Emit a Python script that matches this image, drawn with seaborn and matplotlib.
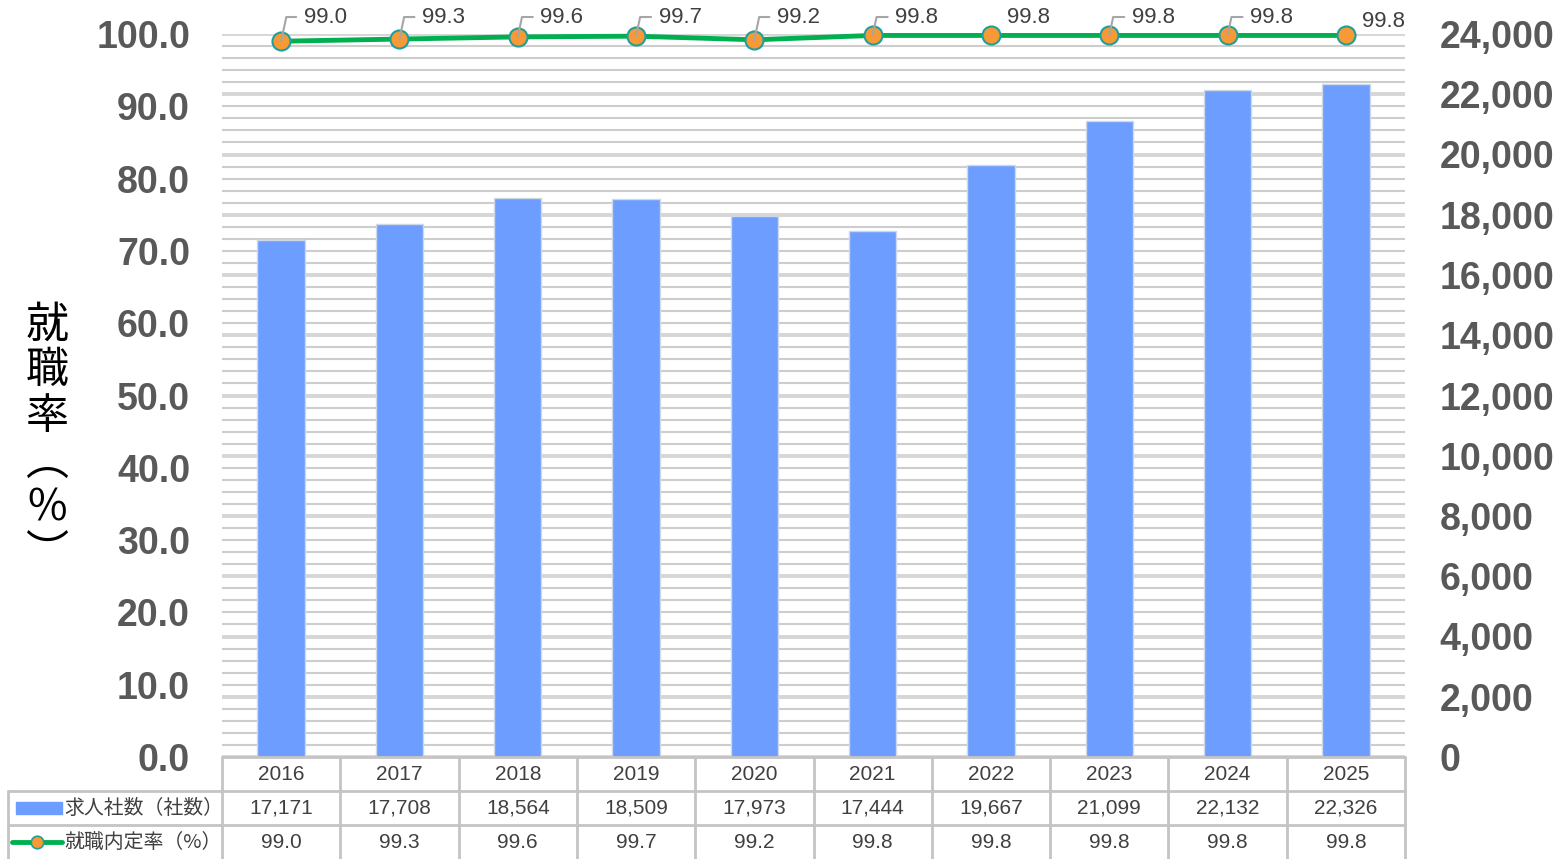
import numpy as np
import matplotlib
matplotlib.use('Agg')
import matplotlib.pyplot as plt
from matplotlib.ticker import MultipleLocator, FuncFormatter
import seaborn as sns

# Data
years = ['2016', '2017', '2018', '2019', '2020', '2021', '2022', '2023', '2024', '2025']
companies = [17171, 17708, 18564, 18509, 17973, 17444, 19667, 21099, 22132, 22326]
rate = [99.0, 99.3, 99.6, 99.7, 99.2, 99.8, 99.8, 99.8, 99.8, 99.8]
bar_label = '求人社数（社数）'
line_label = '就職内定率（%）'

BAR_COLOR = '#6d9eff'
LINE_COLOR = '#00b050'
MARK_FACE = '#f79a36'
MARK_EDGE = '#1f9e9a'
TICK_COLOR = '#595959'
TEXT_COLOR = '#404040'
BORDER = '#c4c4c4'

sns.set_style('white')
plt.rcParams['font.family'] = ['Liberation Sans', 'Noto Sans CJK JP', 'DejaVu Sans']

W, H = 1559, 859
fig = plt.figure(figsize=(W / 100, H / 100), dpi=100)

# plot area in pixels
px_l, px_r, px_t, px_b = 222, 1405, 34, 757
ax = fig.add_axes([px_l / W, 1 - px_b / H, (px_r - px_l) / W, (px_b - px_t) / H])
ax2 = ax.twinx()
ax.set_zorder(ax2.get_zorder() + 1)
ax.patch.set_visible(False)

x = np.arange(len(years))

# bars on right axis
sns.barplot(x=x, y=companies, ax=ax2, color=BAR_COLOR, width=0.4, saturation=1,
            edgecolor='#cfd8e6', linewidth=1, zorder=3)
ax2.set_xlim(-0.5, len(years) - 0.5)
ax2.set_ylim(0, 24000)
ax2.yaxis.set_major_locator(MultipleLocator(2000))
ax2.yaxis.set_minor_locator(MultipleLocator(400))
ax2.yaxis.set_major_formatter(FuncFormatter(lambda v, p: f'{int(v):,}'))
ax2.grid(True, which='minor', axis='y', color='#cdcdcd', lw=1.5, zorder=0)
ax2.grid(True, which='major', axis='y', color='#d6d6d6', lw=2.8, zorder=0)
ax2.set_axisbelow(True)
ax2.tick_params(axis='y', which='both', length=0, pad=25, labelsize=27, labelcolor=TICK_COLOR)
for lab in ax2.get_yticklabels():
    lab.set_fontweight('bold')
ax2.set_xticks([])
ax2.set_ylabel('')

# line on left axis
sns.lineplot(x=x, y=rate, ax=ax, color=LINE_COLOR, lw=3.5, marker='o', markersize=13,
             markerfacecolor=MARK_FACE, markeredgecolor=MARK_EDGE, markeredgewidth=1.5,
             zorder=5, clip_on=False)
ax.set_xlim(-0.5, len(years) - 0.5)
ax.set_ylim(0, 100)
ax.yaxis.set_major_locator(MultipleLocator(10))
ax.yaxis.set_major_formatter(FuncFormatter(lambda v, p: f'{v:.1f}'))
ax.tick_params(axis='y', length=0, pad=23, labelsize=27, labelcolor=TICK_COLOR)
for lab in ax.get_yticklabels():
    lab.set_fontweight('bold')
ax.set_xticks([])

for a in (ax, ax2):
    for s in a.spines.values():
        s.set_visible(False)

# data labels, most with leader lines
no_leader = {6, 9}
for i, v in enumerate(rate):
    if i not in no_leader:
        ax.annotate(f'{v:.1f}', xy=(i, v), xytext=(i + 0.19, 102.35), textcoords='data',
                    ha='left', va='center', fontsize=16, color=TEXT_COLOR, annotation_clip=False,
                    zorder=6,
                    arrowprops=dict(arrowstyle='-', color='#a6a6a6', lw=1.5, shrinkA=3, shrinkB=0,
                                    relpos=(0, 0.5),
                                    connectionstyle='angle,angleA=0,angleB=78,rad=0'))
    else:
        ty = 101.7 if i == len(rate) - 1 else 102.35
        ax.annotate(f'{v:.1f}', xy=(i, v), xytext=(i + 0.135, ty), textcoords='data',
                    ha='left', va='center', fontsize=16, color=TEXT_COLOR, annotation_clip=False)

# y label (vertical text)
fig.text(47 / W, 1 - 440 / H, '就\n職\n率\n︵\n%\n︶', ha='center', va='center',
         fontsize=31, linespacing=1.05, color='black', family=['Noto Sans CJK JP'])

# data table below the chart
tab = fig.add_axes([px_l / W, 0, (px_r - px_l) / W, (H - px_b) / H])
tab.set_xlim(-0.5, len(years) - 0.5)
tab.set_ylim(0, 3)
tab.axis('off')
col_w = (px_r - px_l) / len(years)
x_left = -0.5 - (px_l - 8) / col_w
kw = dict(color=BORDER, lw=2, clip_on=False)
for k in range(len(years) + 1):
    tab.plot([k - 0.5, k - 0.5], [0, 3], **kw)
tab.plot([x_left, x_left], [0, 2], **kw)
tab.plot([-0.5, len(years) - 0.5], [3, 3], **kw)
tab.plot([x_left, len(years) - 0.5], [2, 2], **kw)
tab.plot([x_left, len(years) - 0.5], [1, 1], **kw)

for i in range(len(years)):
    tab.text(i, 2.5, years[i], ha='center', va='center', fontsize=15, color=TEXT_COLOR)
    tab.text(i, 1.5, f'{companies[i]:,}', ha='center', va='center', fontsize=15, color=TEXT_COLOR)
    tab.text(i, 0.5, f'{rate[i]:.1f}', ha='center', va='center', fontsize=15, color=TEXT_COLOR)

# legend keys in label column
def px2x(p):
    return -0.5 - (px_l - p) / col_w

tab.add_patch(plt.Rectangle((px2x(16), 1.33), px2x(62) - px2x(16), 0.36,
                            color=BAR_COLOR, clip_on=False))
tab.plot([px2x(12), px2x(62)], [0.5, 0.5], color=LINE_COLOR, lw=3.5, clip_on=False)
tab.plot([px2x(37)], [0.5], marker='o', markersize=9, markerfacecolor=MARK_FACE,
         markeredgecolor=MARK_EDGE, markeredgewidth=1.2, clip_on=False)
tab.text(px2x(64), 1.5, bar_label, ha='left', va='center', fontsize=14.3, color=TEXT_COLOR,
         family=['Noto Sans CJK JP'])
tab.text(px2x(64), 0.5, line_label, ha='left', va='center', fontsize=14.3, color=TEXT_COLOR,
         family=['Noto Sans CJK JP'])

fig.savefig('out.png', dpi=100)
